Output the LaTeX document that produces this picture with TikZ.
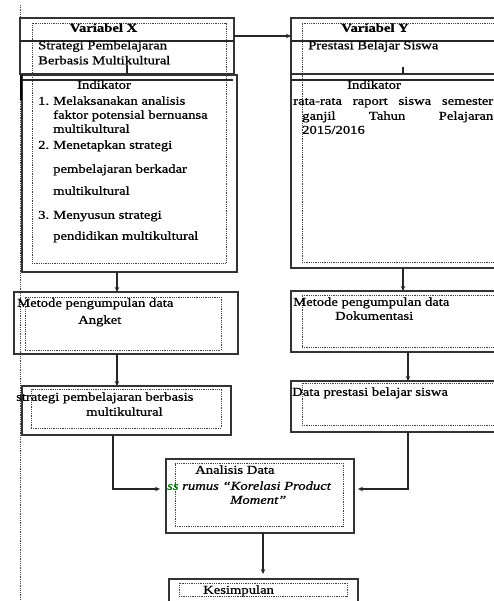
\documentclass[tikz,border=0pt]{standalone}
\usepackage{fontspec}
\setmainfont{Liberation Serif}[FakeStretch=1.22, FakeBold=0.7]
\usetikzlibrary{arrows.meta}

\tikzset{
    >={Stealth[length=5pt,width=4.5pt]},
    box/.style={draw=black!80, line width=1.3pt, anchor=north west, outer sep=0pt, inner sep=0pt},
    dotbox/.style={draw=black!75, line width=0.9pt, dash pattern=on 0.9pt off 0.9pt, anchor=north west, outer sep=0pt, inner sep=0pt},
    txt/.style={inner sep=0pt, anchor=mid west, font=\fontsize{12}{14}\selectfont},
    link/.style={draw=black!85, line width=1.1pt}
}

\begin{document}
\begin{tikzpicture}[x=1pt, y=-1pt]
    \useasboundingbox (0,0) rectangle (494,601);
    \clip (0,0) rectangle (494,601);
    \fill[white] (0,0) rectangle (494,601);
    % margin rule on the left
    \draw[dotbox] (20,5) -- (20,601);

    % left column: variabel X
    \node[box, minimum width=214pt, minimum height=56pt] (varX) at (20,18) {};
    \node[box, minimum width=215pt, minimum height=197pt] (indX) at (22,75) {};
    \node[dotbox, minimum width=194pt, minimum height=240pt] (varXin) at (32,23) {};
    \draw[link] ([yshift=-23pt]varX.north west) -- ([yshift=-23pt]varX.north east);
    \draw[link] ([yshift=-5pt]indX.north west) -- ([yshift=-5pt,xshift=-4pt]indX.north east);
    \draw[line width=2pt] ([xshift=-1pt]indX.north west) -- ([xshift=-1pt,yshift=-25pt]indX.north west);
    \draw[link] ([xshift=107pt,yshift=9pt]varX.south west) -- ([xshift=107pt]varX.south west);
    \node[box, minimum width=224pt, minimum height=62pt] (metX) at (14,292) {};
    \node[dotbox, minimum width=196pt, minimum height=53pt] (metXin) at (25,297) {};
    \node[box, minimum width=209pt, minimum height=49pt] (strX) at (22,386) {};
    \node[dotbox, minimum width=190pt, minimum height=39pt] (strXin) at (31,389) {};

    % right column: variabel Y
    \node[box, minimum width=240pt, minimum height=56pt] (varY) at (291,18) {};
    \node[box, minimum width=240pt, minimum height=194pt] (indY) at (291,74) {};
    \node[dotbox, minimum width=230pt, minimum height=239pt] (varYin) at (302,23) {};
    \draw[link] ([yshift=-23pt]varY.north west) -- ([yshift=-23pt]varY.north east);
    \draw[link] ([yshift=-6pt]indY.north west) -- ([yshift=-6pt]indY.north east);
    \draw[link] ([xshift=112pt,yshift=7pt]varY.south west) -- ([xshift=112pt]varY.south west);
    \node[box, minimum width=240pt, minimum height=61pt] (metY) at (291,291) {};
    \node[dotbox, minimum width=230pt, minimum height=52pt] (metYin) at (302,295) {};
    \node[box, minimum width=240pt, minimum height=51pt] (datY) at (291,381) {};
    \node[dotbox, minimum width=230pt, minimum height=42pt] (datYin) at (302,383) {};

    % bottom: analisis and kesimpulan
    \node[box, minimum width=188pt, minimum height=74pt] (anls) at (166,459) {};
    \node[dotbox, minimum width=168pt, minimum height=63pt] (anlsin) at (175,463) {};
    \node[box, minimum width=189pt, minimum height=40pt] (kesm) at (169,579) {};
    \node[dotbox, minimum width=168pt, minimum height=13pt] (kesmin) at (179,583) {};

    % texts
    \node[txt, anchor=mid] (tVarX) at (103.5,29.5) {\bfseries Variabel X};
    \node[txt] (tStr1) at (38,47) {Strategi Pembelajaran};
    \node[txt] (tStr2) at (38,62) {Berbasis Multikultural};
    \node[txt] (tIndX) at (77,86.5) {Indikator};
    \node[txt] (n1) at (38,102.5) {1.};
    \node[txt] (i1a) at (53,102.5) {Melaksanakan analisis};
    \node[txt] (i1b) at (53,116.5) {faktor potensial bernuansa};
    \node[txt] (i1c) at (53,130.5) {multikultural};
    \node[txt] (n2) at (38,146.5) {2.};
    \node[txt] (i2a) at (53,146.5) {Menetapkan strategi};
    \node[txt] (i2b) at (53,170.5) {pembelajaran berkadar};
    \node[txt] (i2c) at (53,192.5) {multikultural};
    \node[txt] (n3) at (38,216.5) {3.};
    \node[txt] (i3a) at (53,216.5) {Menyusun strategi};
    \node[txt] (i3b) at (53,237.5) {pendidikan multikultural};
    \node[txt] (tMetX) at (17,304.5) {Metode pengumpulan data};
    \node[txt] (tAng) at (78,321.5) {Angket};
    \node[txt] (tStrX1) at (16,398.5) {strategi pembelajaran berbasis};
    \node[txt] (tStrX2) at (86,413.5) {multikultural};

    \node[txt, anchor=mid] (tVarY) at (375,29.5) {\bfseries Variabel Y};
    \node[txt] (tPres) at (308,47) {Prestasi Belajar Siswa};
    \node[txt] (tIndY) at (347,86.5) {Indikator};
    \node[txt] (r1) at (293,102.5) {\makebox[200pt][s]{rata-rata raport siswa semester}};
    \node[txt] (r2) at (302,117.5) {\makebox[191pt][s]{ganjil Tahun Pelajaran}};
    \node[txt] (r3) at (302,131.5) {2015/2016};
    \node[txt] (tMetY) at (293,303.5) {Metode pengumpulan data};
    \node[txt] (tDok) at (335,317.5) {Dokumentasi};
    \node[txt] (tDat) at (292,393.5) {Data prestasi belajar siswa};

    \node[txt] (tAnl) at (195,471.5) {Analisis Data};
    \node[txt] (tRum) at (167,487.5) {\itshape{\color{green!45!black}ss} rumus ``Korelasi Product};
    \node[txt] (tMom) at (230,501.5) {\itshape Moment''};
    \node[txt] (tKes) at (203,591.5) {Kesimpulan};

    % connectors
    \draw[link, ->] ([yshift=-18pt]varX.north east) -- ([yshift=-18pt]varY.north west);
    \draw[link, ->] ([xshift=95pt]indX.south west) -- ([xshift=103pt]metX.north west);
    \draw[link, ->] ([xshift=103pt]metX.south west) -- ([xshift=95pt]strX.north west);
    \draw[link, ->] ([xshift=112pt]indY.south west) -- ([xshift=112pt]metY.north west);
    \draw[link, ->] ([xshift=117pt]metY.south west) -- ([xshift=117pt]datY.north west);
    \draw[link, ->] ([xshift=91pt]strX.south west) |- ([xshift=-6pt,yshift=7pt]anls.west);
    \draw[link, ->] ([xshift=117pt]datY.south west) |- ([xshift=4pt,yshift=7pt]anls.east);
    \draw[link, ->] ([xshift=97pt]anls.south west) -- ([xshift=94pt,yshift=5pt]kesm.north west);
\end{tikzpicture}
\end{document}
